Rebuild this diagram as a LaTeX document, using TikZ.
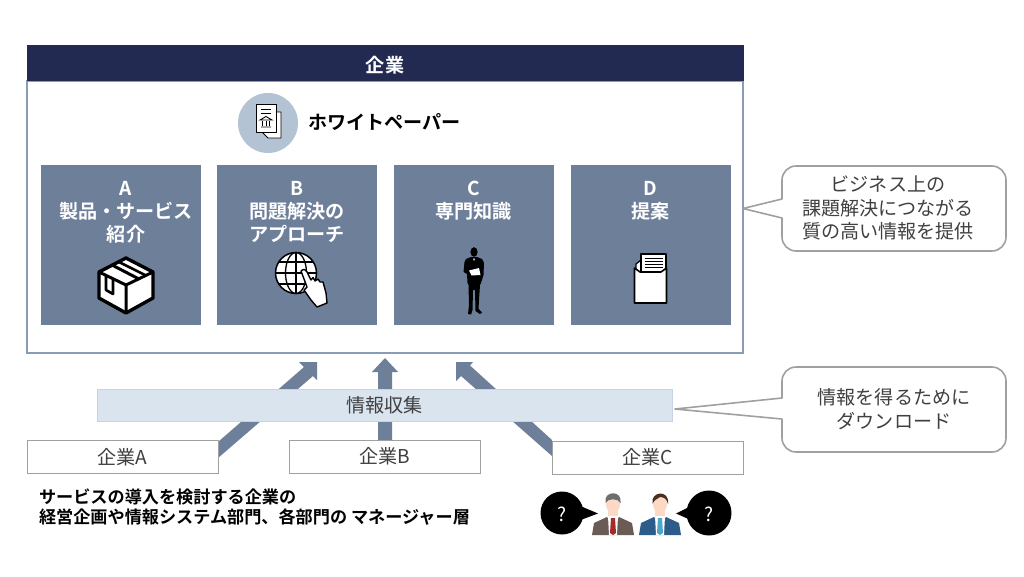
\documentclass[tikz,border=0pt]{standalone}
\usepackage{fontspec}
\setmainfont{Noto Sans CJK JP}[BoldFont={Noto Sans CJK JP Bold}]
\definecolor{navy}{HTML}{222A52}
\definecolor{slate}{HTML}{6E7F9A}
\definecolor{edgeblue}{HTML}{8A9BB5}
\definecolor{pale}{HTML}{DAE4EF}
\definecolor{paleedge}{HTML}{C5D3E2}
\definecolor{disc}{HTML}{B4C3D3}
\definecolor{txt}{HTML}{404040}
\definecolor{calloutedge}{HTML}{A0A0A0}
\definecolor{skin}{HTML}{FBD9C5}
\definecolor{suitgrey}{HTML}{6B5B55}
\definecolor{tiered}{HTML}{A52A2A}
\definecolor{hairgrey}{HTML}{6E6E6E}
\definecolor{hairbrown}{HTML}{4A2E20}
\definecolor{suitblue}{HTML}{2E5C8A}
\definecolor{tieblue}{HTML}{4FA6CC}
\tikzset{
  x=1pt,y=-1pt,
  every node/.style={inner sep=0pt,outer sep=0pt,text=txt},
  jp/.style={font=\fontsize{19.1}{23.4}\selectfont,align=center},
  jpb/.style={font=\fontsize{19.1}{23.4}\selectfont\bfseries,align=center},
  jps/.style={font=\fontsize{17.15}{20}\selectfont\bfseries,align=left,text=black},
  card/.style={fill=slate,draw=none,minimum width=160pt,minimum height=160pt},
  cardtext/.style={jpb,text=white,anchor=north},
  company/.style={draw=calloutedge,line width=.9pt,fill=white,minimum width=191pt,minimum height=33pt,jp},
  callout/.style={draw=calloutedge,line width=1.6pt,fill=white,line join=round},
  flow/.style={fill=slate,draw=none},
  ink/.style={draw=black,fill=white,line join=round},
}
\begin{document}
\begin{tikzpicture}
\useasboundingbox (0,0) rectangle (1024,576);
\fill[white] (0,0) rectangle (1024,576);
% main frame
\node[draw=edgeblue,line width=1.1pt,fill=white,minimum width=716pt,minimum height=272pt] (frame) at (385,217) {};
\node[fill=navy,minimum width=717pt,minimum height=36pt] (head) at (385,63) {};
\node[jpb,text=white] (headtext) at (385,65) {企業};
% white paper
\fill[disc] (268,123) circle[radius=30];
\draw[ink,line width=.9pt] (262,112) -- (281,112) -- (281,138) -- (268,138) -- (262,132) -- cycle;
\draw[ink,line width=.9pt] (256,104) -- (276,104) -- (276,132) -- (256,132) -- cycle;
\draw[line width=.9pt] (261,109) -- (271,109) (261,113) -- (271,113);
\draw[line width=.9pt] (260,120) -- (266,116.5) -- (272,120) -- cycle (261,127) -- (271,127);
\draw[line width=1pt] (262.5,121) -- (262.5,126) (266,121) -- (266,126) (269.5,121) -- (269.5,126);
\node[jpb,text=black,anchor=west] (wp) at (308,122.5) {ホワイトペーパー};
% cards
\node[card] (ca) at (120.5,244.5) {};
\node[card] (cb) at (297,244.5) {};
\node[card] (cc) at (473.5,244.5) {};
\node[card] (cd) at (650.5,244.5) {};
\node[cardtext] (ta) at (126,181) {A\\製品・サービス\\紹介};
\node[cardtext] (tb) at (297,181) {B\\問題解決の\\アプローチ};
\node[cardtext] (tc) at (473.5,181) {C\\専門知識};
\node[cardtext] (td) at (650.5,181) {D\\提案};
% box icon
\draw[ink,line width=3.4pt,miter limit=2] (126,258) -- (153,272) -- (153,298) -- (126,313) -- (99,298) -- (99,272) -- cycle;
\draw[line width=3pt,line join=round] (99,272) -- (126,285) -- (153,272) (126,285) -- (126,313);
\draw[line width=3pt] (112,265) -- (139,279);
\draw[line width=2.6pt,line join=round] (106,276) -- (106,290) -- (113,294) -- (113,280);
\draw[line width=2.6pt] (119,262) -- (146,275.5);
% globe icon
\fill[white] (296,273) circle[radius=20.5];
\draw[line width=1.5pt] (296,273) circle[radius=20.5];
\draw[line width=1.3pt] (296,252.5) -- (296,293.5);
\draw[line width=1.3pt] (296,273) ellipse[x radius=10.5,y radius=20.5];
\draw[line width=1.3pt] (275.5,273) -- (316.5,273) (279,262) -- (313,262) (279,284) -- (313,284);
\draw[ink,line width=1.4pt] (301,271) .. controls (304,268) and (306,270) .. (307,272) -- (311,280) -- (313,277.5) -- (315,281) -- (318,279) -- (320,282) -- (323,282) -- (326,293) -- (327,303) -- (317,307) -- (311,300) -- (304,290) -- (307,287) -- (301,271) -- cycle;
% man silhouette
\fill[black] (474,252) ellipse[x radius=3.6,y radius=4.8];
\fill[black] (471,257) -- (477,257) -- (482,259) -- (484,263) -- (483.5,275) -- (481,283) -- (480,285) -- (479,300) -- (478.5,309) -- (482,312.5) -- (480,314) -- (475.5,311) -- (475,290) -- (473,290) -- (472.5,310) -- (471,314.5) -- (468,314) -- (469,305) -- (468.5,285) -- (467.5,283) -- (467,274) -- (463.5,272) -- (464.5,262) -- (466,259) -- cycle;
\fill[white] (469,270.5) -- (479,268) -- (480.5,275) -- (471.5,275.5) -- cycle;
\fill[white] (473,258.5) -- (475,258.5) -- (474,261) -- cycle;
% envelope icon
\draw[ink,line width=1.2pt] (641,260) -- (636,264) -- (636,272) -- (641,272);
\draw[ink,line width=1.6pt] (641,254) -- (666,254) -- (666,272) -- (641,272) -- cycle;
\draw[line width=1pt] (644.5,258) -- (663,258) (644.5,261) -- (663,261) (644.5,264) -- (663,264) (644.5,267) -- (663,267);
\draw[ink,line width=1.6pt] (634.5,268) -- (640,272) -- (661,272) -- (666.5,268) -- (666.5,303) -- (634.5,303) -- cycle;
% flow arrows
\fill[flow] (218,442) -- (304,367) -- (299,362) -- (317,362) -- (317,380) -- (313,376) -- (218,458) -- cycle;
\fill[flow] (378,440) -- (378,372) -- (372,372) -- (385,358) -- (398,372) -- (392,372) -- (392,440) -- cycle;
\fill[flow] (552,440) -- (470,365.5) -- (473,362) -- (456,362) -- (456,381) -- (461,376) -- (552,456) -- cycle;
% band
\node[draw=paleedge,line width=1pt,fill=pale,minimum width=575pt,minimum height=32pt,jp] (band) at (384.5,405.5) {情報収集};
% companies
\node[company] (ka) at (122.5,457) {企業A};
\node[company] (kb) at (384.5,456.5) {企業B};
\node[company] (kc) at (647.5,457.5) {企業C};
% callouts
\draw[callout] (796,166) -- (992,166) arc[start angle=-90,end angle=0,radius=14] -- (1006,237) arc[start angle=0,end angle=90,radius=14] -- (796,251) arc[start angle=90,end angle=180,radius=14] -- (782,218) -- (743,208.5) -- (782,199) -- (782,180) arc[start angle=180,end angle=270,radius=14] -- cycle;
\draw[callout] (796,367) -- (992,367) arc[start angle=-90,end angle=0,radius=14] -- (1006,438) arc[start angle=0,end angle=90,radius=14] -- (796,452) arc[start angle=90,end angle=180,radius=14] -- (782,419) -- (675,409) -- (782,398) -- (782,381) arc[start angle=180,end angle=270,radius=14] -- cycle;
\node[jp] (c1) at (888,208) {ビジネス上の\\課題解決につながる\\質の高い情報を提供};
\node[jp] (c2) at (894,409) {情報を得るために\\ダウンロード};
% audience
\node[jps,anchor=west] (aud) at (39,507) {サービスの導入を検討する企業の\\経営企画や情報システム部門、各部門の マネージャー層};
% bubbles
\fill[black] (562,513) circle[radius=21.5];
\fill[black] (578,505) -- (598,513.5) -- (578,521) -- cycle;
\fill[black] (709,513) circle[radius=22.5];
\fill[black] (693,505) -- (676,513.5) -- (693,521) -- cycle;
\node[jp,text=white] (q1) at (562,514) {?};
\node[jp,text=white] (q2) at (709,514) {?};
% person 1
\fill[skin] (613,504) ellipse[x radius=7,y radius=9];
\fill[skin] (608,510) rectangle (618,520);
\fill[hairgrey] (605.5,503) .. controls (603,490) and (623,490) .. (620.5,503) .. controls (618,498) and (608,498) .. (605.5,503) -- cycle;
\fill[suitgrey] (592,535) -- (594,523) -- (607,517) -- (613,526) -- (619,517) -- (632,523) -- (634,535) -- cycle;
\fill[white] (608,516) -- (618,516) -- (617,535) -- (609,535) -- cycle;
\fill[tiered] (611,518) -- (615,518) -- (616,533) -- (613,535) -- (610,533) -- cycle;
% person 2
\fill[skin] (660,504) ellipse[x radius=7,y radius=9];
\fill[skin] (655,510) rectangle (665,520);
\fill[hairbrown] (652.5,504) .. controls (650,491) and (670,489) .. (668,504) .. controls (667,499) and (664,497) .. (660,497) .. controls (657,499) and (654,500) .. (652.5,504) -- cycle;
\fill[suitblue] (639,535) -- (641,523) -- (654,517) -- (660,526) -- (666,517) -- (679,523) -- (681,535) -- cycle;
\fill[white] (655,516) -- (665,516) -- (664,535) -- (656,535) -- cycle;
\fill[tieblue] (658,518) -- (662,518) -- (663,533) -- (660,535) -- (657,533) -- cycle;
\end{tikzpicture}
\end{document}
